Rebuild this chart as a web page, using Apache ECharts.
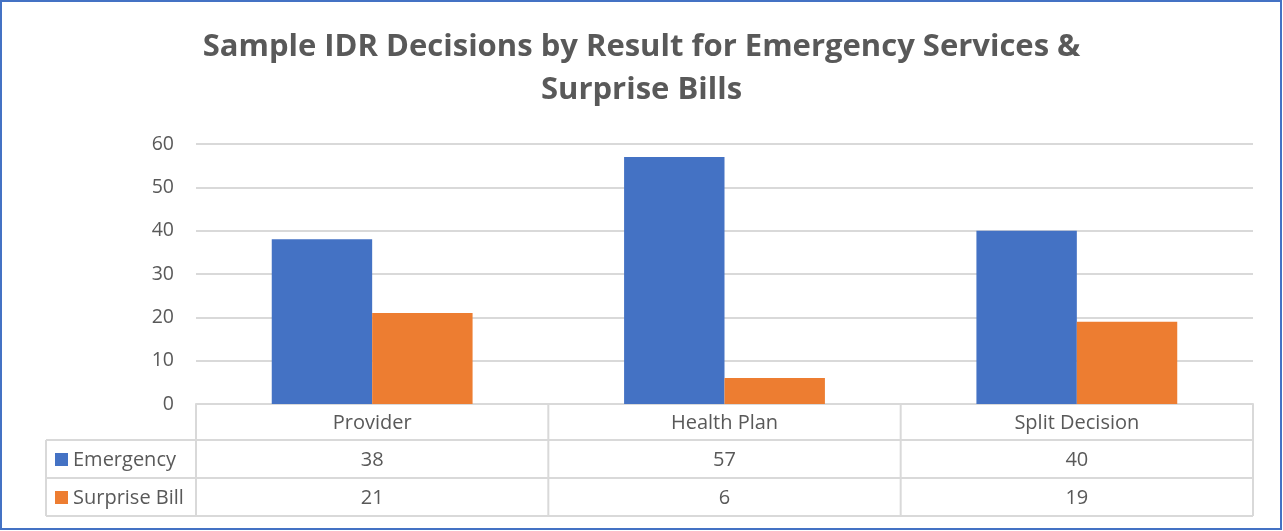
<!DOCTYPE html>
<html><head><meta charset="utf-8">
<script src="https://cdn.jsdelivr.net/npm/echarts@6/dist/echarts.min.js"></script>
<style>html,body{margin:0;padding:0;background:#fff}#c{width:1283px;height:531px}</style>
</head><body><div id="c"></div>
<script>
const titleText = 'Sample IDR Decisions by Result for Emergency Services &\nSurprise Bills';
const categories = ['Provider', 'Health Plan', 'Split Decision'];
const seriesNames = ['Emergency', 'Surprise Bill'];
const emergency = [38, 57, 40];
const surpriseBill = [21, 6, 19];
const seriesColors = ['#4472C4', '#ED7D31'];
const yMin = 0, yMax = 60, yInterval = 10;

const W = 1283, H = 531;
const G = {left: 196, right: 30, top: 144, bottom: 127};
const FONT = '"Open Sans", "Noto Sans", sans-serif';
const TXT = '#595959';
const LINE = '#d9d9d9';

const chart = echarts.init(document.getElementById('c'), null, {renderer: 'canvas'});
const allSeries = [emergency, surpriseBill];

const option = {
  animation: false,
  backgroundColor: '#fff',
  title: {
    text: titleText, left: 'center', top: 21,
    textStyle: {fontFamily: FONT, fontSize: 31, fontWeight: 'bold', color: TXT, lineHeight: 43}
  },
  grid: G,
  xAxis: {
    type: 'category', data: categories,
    axisLine: {show: true, lineStyle: {color: LINE, width: 2}},
    axisTick: {show: false},
    axisLabel: {fontFamily: FONT, fontSize: 20, color: TXT, margin: 9}
  },
  yAxis: {
    type: 'value', min: yMin, max: yMax, interval: yInterval,
    axisLine: {show: false}, axisTick: {show: false},
    axisLabel: {fontFamily: FONT, fontSize: 19.5, color: TXT, margin: 22},
    splitLine: {lineStyle: {color: LINE, width: 2}}
  },
  series: seriesNames.map((n, i) => ({
    name: n, type: 'bar', data: allSeries[i],
    barGap: '0%', barCategoryGap: '43%',
    itemStyle: {color: seriesColors[i]}
  }))
};
chart.setOption(option);

// Data table below the plot
const plotW = W - G.left - G.right;
const bandW = plotW / categories.length;
const axisY = H - G.bottom;
const rowH = 38;
const headH = 36;
const tableLeft = 46;
const gfx = [];
const ln = (x1, y1, x2, y2) => gfx.push({type: 'line', shape: {x1, y1, x2, y2}, style: {stroke: LINE, lineWidth: 2}, z: 10});
for (let i = 0; i <= categories.length; i++) {
  const x = G.left + i * bandW;
  ln(x, axisY, x, axisY + headH + rowH * seriesNames.length);
}
ln(tableLeft, axisY + headH, tableLeft, axisY + headH + rowH * seriesNames.length);
for (let r = 0; r <= seriesNames.length; r++) {
  const y = axisY + headH + r * rowH;
  ln(tableLeft, y, G.left + plotW, y);
}
seriesNames.forEach((n, r) => {
  const cy = axisY + headH + r * rowH + rowH / 2 + 1;
  gfx.push({type: 'rect', shape: {x: tableLeft + 9, y: cy - 7, width: 13, height: 13}, style: {fill: seriesColors[r]}, z: 11});
  gfx.push({type: 'text', x: tableLeft + 27, y: cy, style: {text: n, fontFamily: FONT, fontSize: 20, fill: TXT, verticalAlign: 'middle', align: 'left'}, z: 11});
  allSeries[r].forEach((v, i) => {
    const cx = chart.convertToPixel({xAxisIndex: 0}, i);
    gfx.push({type: 'text', x: cx, y: cy, style: {text: String(v), fontFamily: FONT, fontSize: 20, fill: TXT, verticalAlign: 'middle', align: 'center'}, z: 11});
  });
});
gfx.push({type: 'rect', shape: {x: 1, y: 1, width: W - 3, height: H - 3}, style: {fill: 'none', stroke: '#4472C4', lineWidth: 2}, z: 20});
chart.setOption({graphic: gfx});
</script></body></html>
